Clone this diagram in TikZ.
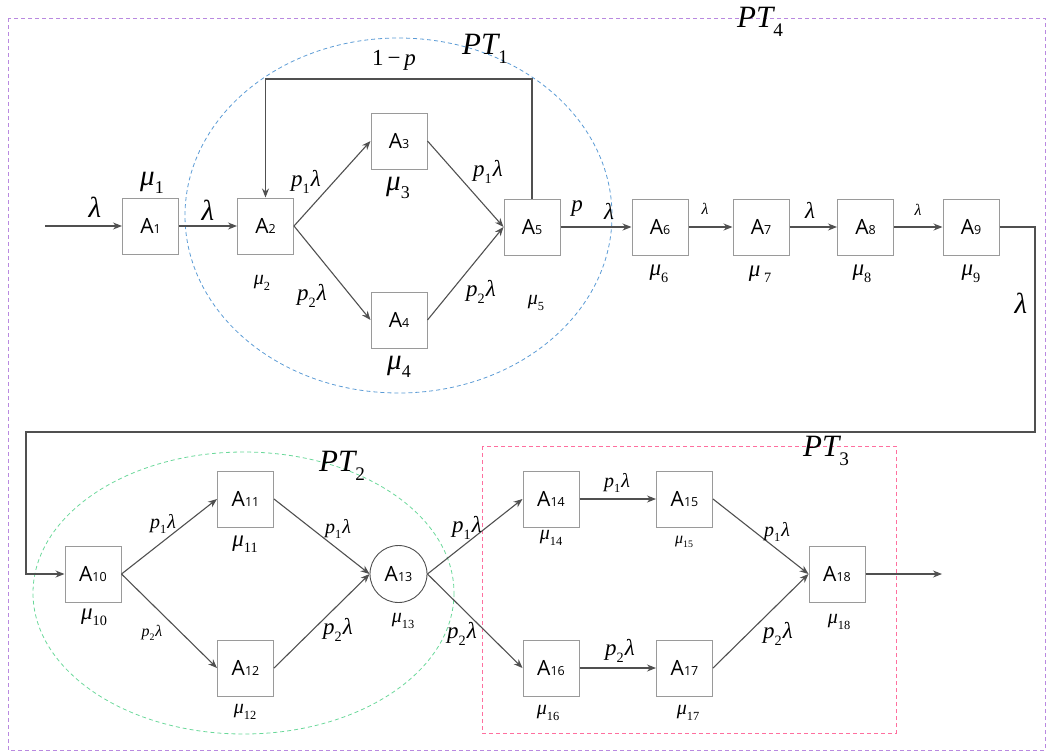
\documentclass[tikz,border=0pt]{standalone}
\usepackage{fontspec}
\newfontfamily\boxfont{Open Sans}
\newfontfamily\tms{Liberation Serif}
\usetikzlibrary{arrows.meta,calc}
\definecolor{lin}{HTML}{505050}
\definecolor{bord}{HTML}{9A9A9A}
\definecolor{pblue}{HTML}{5B9BD5}
\definecolor{pgreen}{HTML}{6AD89A}
\definecolor{ppink}{HTML}{FF6F9F}
\definecolor{ppurp}{HTML}{B989E0}
\newcommand{\bl}[1]{{\boxfont\fontsize{21}{21}\selectfont A\fontsize{12.5}{12.5}\selectfont #1}}
\newcommand{\sbs}[1]{\raisebox{-0.28em}{\scalebox{0.62}{\upshape #1}}}
\newcommand{\LA}{{\itshape λ}}
\newcommand{\MU}[1]{{\itshape μ}\sbs{#1}}
\newcommand{\PL}[1]{{\itshape p}\sbs{#1}\kern0.05em{\itshape λ}}
\tikzset{
  box/.style={draw=bord,line width=1pt,minimum width=56pt,minimum height=56pt,inner sep=0pt,fill=white},
  circ/.style={draw=lin,line width=0.9pt,circle,minimum size=57pt,inner sep=0pt,fill=white},
  arr/.style={draw=lin,line width=1.1pt,-{Stealth[length=9pt,width=7pt]}},
  lb/.style={inner sep=0pt,font=\tms\fontsize{23}{23}\selectfont},
  lbM/.style={inner sep=0pt,font=\tms\fontsize{20}{20}\selectfont},
  lbB/.style={inner sep=0pt,font=\tms\fontsize{29}{29}\selectfont},
  lbS/.style={inner sep=0pt,font=\tms\fontsize{16}{16}\selectfont},
  ptl/.style={inner sep=0pt,font=\tms\fontsize{31}{31}\selectfont},
  region/.style={dashed,line width=0.8pt,dash pattern=on 4pt off 3pt}
}
\begin{document}
\begin{tikzpicture}[x=1pt,y=-1pt]
\useasboundingbox (0,0) rectangle (1051,753);
% regions
\draw[region,draw=ppurp] (8,18) rectangle (1045,750);
\draw[region,draw=pblue] (398.5,215.5) ellipse [x radius=213.5,y radius=177.5];
\draw[region,draw=pgreen] (243.5,593) ellipse [x radius=210.5,y radius=141];
\draw[region,draw=ppink] (482,446) rectangle (896,733);
\node[ptl] (pt4) at (760,22) {\itshape PT\sbs{4}};
\node[ptl] (pt1) at (485,49) {\itshape PT\sbs{1}};
\node[ptl] (pt2) at (342,466) {\itshape PT\sbs{2}};
\node[ptl] (pt3) at (826,451) {\itshape PT\sbs{3}};
% nodes
\node[box] (A1) at (150.5,226) {\bl{1}};
\node[box] (A2) at (265.5,226) {\bl{2}};
\node[box] (A3) at (399,141) {\bl{3}};
\node[box] (A4) at (399,320) {\bl{4}};
\node[box] (A5) at (532,227) {\bl{5}};
\node[box] (A6) at (660,227) {\bl{6}};
\node[box] (A7) at (761,227) {\bl{7}};
\node[box] (A8) at (865.5,227) {\bl{8}};
\node[box] (A9) at (971,227) {\bl{9}};
\node[box] (A10) at (93,574) {\bl{10}};
\node[box] (A11) at (245.5,499) {\bl{11}};
\node[box] (A12) at (245.5,668) {\bl{12}};
\node[circ] (A13) at (398.5,574) {\bl{13}};
\node[box] (A14) at (551,499) {\bl{14}};
\node[box] (A15) at (684.5,499) {\bl{15}};
\node[box] (A16) at (551,668) {\bl{16}};
\node[box] (A17) at (684.5,668) {\bl{17}};
\node[box] (A18) at (837,574) {\bl{18}};
% coordinates
\coordinate (in) at (45,226);
\coordinate (fb) at (0,79);
\coordinate (r1) at (1035,227);
\coordinate (r2) at (1035,432);
\coordinate (l1) at (26,432);
\coordinate (l2) at (26,574);
\coordinate (out) at (942,574);
% connectors
\draw[arr] (in) -- (A1);
\draw[arr] (A1) -- (A2);
\draw[arr] (A2.east) -- (A3.west);
\draw[arr] (A2.east) -- (A4.west);
\draw[arr] (A3.east) -- (A5.west);
\draw[arr] (A4.east) -- (A5.west);
\draw[arr] (A5.north) -- (A5.north |- fb) -- (A2.north |- fb) -- (A2.north);
\draw[arr] (A5) -- (A6);
\draw[arr] (A6) -- (A7);
\draw[arr] (A7) -- (A8);
\draw[arr] (A8) -- (A9);
\draw[arr] (A9.east) -- (r1) -- (r2) -- (l1) -- (l2) -- (A10.west);
\draw[arr] (A10.east) -- (A11.west);
\draw[arr] (A10.east) -- (A12.west);
\draw[arr] (A11.east) -- (A13.west);
\draw[arr] (A12.east) -- (A13.west);
\draw[arr] (A13.east) -- (A14.west);
\draw[arr] (A13.east) -- (A16.west);
\draw[arr] (A14) -- (A15);
\draw[arr] (A16) -- (A17);
\draw[arr] (A15.east) -- (A18.west);
\draw[arr] (A17.east) -- (A18.west);
\draw[arr] (A18) -- (out);
% labels row 1
\node[lbB] (t1) at (95,207) {\LA};
\node[lbB] (t2) at (152,183) {\MU{1}};
\node[lbB] (t3) at (208,210) {\LA};
\node[lb] (t4) at (306,182) {\PL{1}};
\node[lbM] (t5) at (262,283) {\MU{2}};
\node[lbB] (t6) at (398,188) {\MU{3}};
\node[lb] (t7) at (488,172) {\PL{1}};
\node[lb] (t8) at (312,296) {\PL{2}};
\node[lbB] (t9) at (399,367) {\MU{4}};
\node[lb] (t10) at (481,292) {\PL{2}};
\node[lbM] (t11) at (536,303) {\MU{5}};
\node[lb] (t12) at (577,209) {\itshape p};
\node[lb] (t13) at (609,211) {\LA};
\node[lbS] (t14) at (705,209) {\LA};
\node[lb] (t15) at (810,210) {\LA};
\node[lbS] (t16) at (918,210) {\LA};
\node[lb] (t17) at (659,274) {\MU{6}};
\node[lb] (t18) at (760,274) {{\itshape μ}\,\sbs{7}};
\node[lb] (t19) at (862,274) {\MU{8}};
\node[lb] (t20) at (971,274) {\MU{9}};
\node[lbB] (t21) at (1021,303) {\LA};
\node[lb] (t22) at (394,60) {1\,−\,{\itshape p}};
% labels row 2
\node[lbM] (u1) at (163,524) {\PL{1}};
\node[lb] (u2) at (245,544) {\MU{11}};
\node[lbM] (u3) at (338,529) {\PL{1}};
\node[lb] (u4) at (94,617) {\MU{10}};
\node[lbS] (u5) at (152,633) {\PL{2}};
\node[lb] (u6) at (338,630) {\PL{2}};
\node[lbM] (u7) at (403,621) {\MU{13}};
\node[lbM] (u8) at (245,712) {\MU{12}};
\node[lb] (u9) at (467,528) {\PL{1}};
\node[lb] (u10) at (462,634) {\PL{2}};
\node[lbM] (u11) at (617,483) {\PL{1}};
\node[lbM] (u12) at (551,538) {\MU{14}};
\node[lbS] (u13) at (684,542) {\MU{15}};
\node[lbM] (u14) at (777,532) {\PL{1}};
\node[lbM] (u15) at (839,622) {\MU{18}};
\node[lb] (u16) at (778,634) {\PL{2}};
\node[lb] (u17) at (620,651) {\PL{2}};
\node[lbM] (u18) at (548,713) {\MU{16}};
\node[lbM] (u19) at (688,713) {\MU{17}};
\end{tikzpicture}
\end{document}
